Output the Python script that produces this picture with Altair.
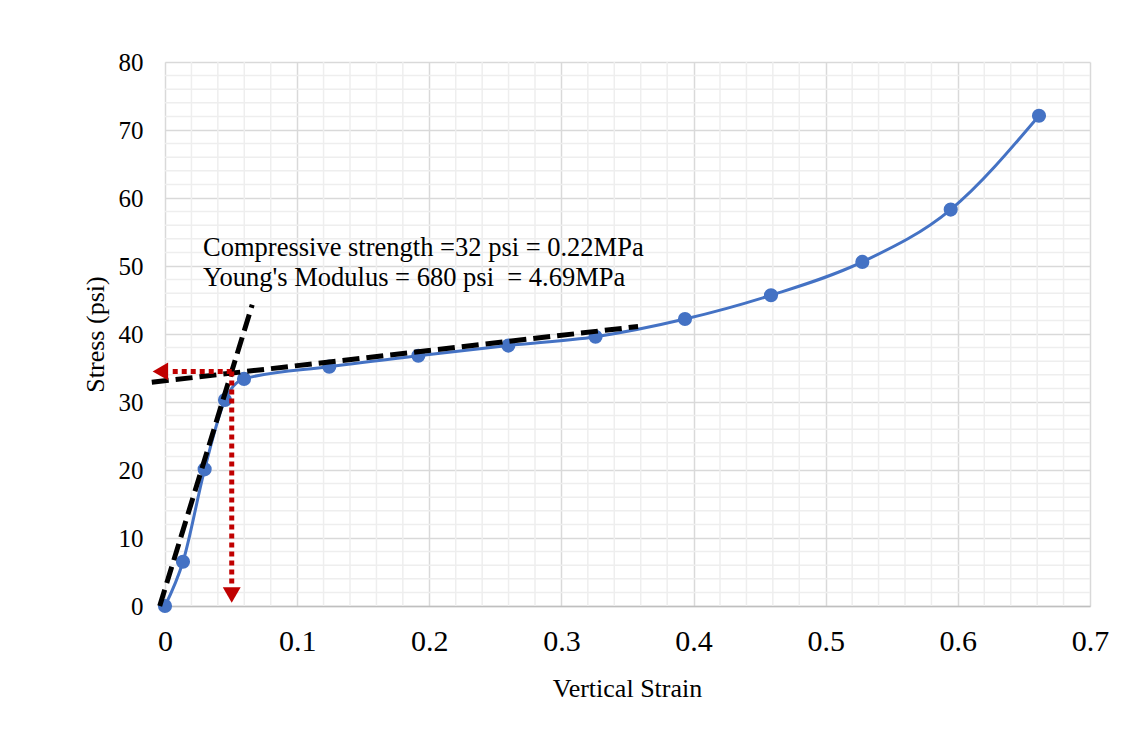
import altair as alt
import pandas as pd
import numpy as np

# --- data ---
strain = [0.0, 0.0136, 0.0300, 0.0454, 0.0598, 0.1243, 0.1917, 0.2598, 0.3258, 0.3935, 0.4586, 0.5277, 0.5946, 0.6614]
stress = [0.0, 6.5, 20.1, 30.3, 33.4, 35.2, 36.8, 38.3, 39.6, 42.2, 45.7, 50.6, 58.3, 72.1]

# tangent (elastic) line and plastic line
tan1_x = [-0.004, 0.066]
tan1_y = [0.0, 44.3]
tan2_x = [-0.010, 0.358]
tan2_y = [32.9, 41.1]

# red dotted guides and arrowheads
guide_h_x = [0.0505, 0.004]
guide_h_y = [34.5, 34.5]
guide_v_x = [0.0505, 0.0505]
guide_v_y = [34.5, 3.0]
arrow_left = (-0.0035, 34.5)
arrow_down = (0.0505, 1.6)

ann_lines = ["Compressive strength =32 psi = 0.22MPa", "Young's Modulus = 680 psi\u00a0 = 4.69MPa"]
ann_x = [0.0288, 0.0288]
ann_y = [51.5, 47.1]

x_ticks = [0, 0.1, 0.2, 0.3, 0.4, 0.5, 0.6, 0.7]
y_ticks = [0, 10, 20, 30, 40, 50, 60, 70, 80]

FONT = "Liberation Serif"
BLUE = "#4472C4"
RED = "#C00000"

xs = alt.Scale(domain=[0, 0.7], nice=False, zero=False)
ys = alt.Scale(domain=[0, 80], nice=False)

main = pd.DataFrame({"x": strain, "y": stress})

x_axis = alt.Axis(values=x_ticks, format=".1~f", title="Vertical Strain", grid=True,
                  gridColor="#d9d9d9", gridWidth=1.5, domainColor="#bfbfbf", domainWidth=1.5,
                  ticks=False, labelFlush=False, labelFont=FONT, labelFontSize=30, labelColor="#000000",
                  labelPadding=20, titleFont=FONT, titleFontSize=26, titleFontWeight="normal",
                  titleColor="#000000", titleX=462, titleY=90, titleBaseline="alphabetic")
y_axis = alt.Axis(values=y_ticks, title="Stress (psi)", grid=True, gridColor="#d9d9d9", gridWidth=1.5,
                  domainColor="#d9d9d9", ticks=False, labelFlush=False, labelFont=FONT, labelFontSize=25,
                  labelColor="#000000", labelPadding=22, titleFont=FONT, titleFontSize=26,
                  titleFontWeight="normal", titleColor="#000000", titleX=-70, titleY=272,
                  titleBaseline="middle", titleAngle=-90, titleAlign="center")

minor_x = pd.DataFrame({"v": [v for v in np.round(np.arange(0.02, 0.7, 0.02), 2) if round(v * 10, 6) % 1 != 0]})
minor_y = pd.DataFrame({"v": [v for v in range(2, 80, 2) if v % 10 != 0]})

grid_x = alt.Chart(minor_x).mark_rule(color="#eeeeee", strokeWidth=1.5).encode(
    x=alt.X("v:Q", scale=xs, axis=x_axis))
grid_y = alt.Chart(minor_y).mark_rule(color="#eeeeee", strokeWidth=1.5).encode(
    y=alt.Y("v:Q", scale=ys, axis=y_axis))

line = alt.Chart(main).mark_line(color=BLUE, strokeWidth=3, interpolate="monotone").encode(
    x=alt.X("x:Q", scale=xs), y=alt.Y("y:Q", scale=ys))
pts = alt.Chart(main).mark_point(color=BLUE, filled=True, opacity=1, size=200).encode(
    x=alt.X("x:Q", scale=xs), y=alt.Y("y:Q", scale=ys))

def seg(xv, yv, **kw):
    df = pd.DataFrame({"x": xv, "y": yv, "o": list(range(len(xv)))})
    return alt.Chart(df).mark_line(**kw).encode(
        x=alt.X("x:Q", scale=xs), y=alt.Y("y:Q", scale=ys), order="o:Q")

t1 = seg(tan1_x, tan1_y, color="black", strokeWidth=5, strokeDash=[17, 7])
t2 = seg(tan2_x, tan2_y, color="black", strokeWidth=5, strokeDash=[17, 7])
g1 = seg(guide_h_x, guide_h_y, color=RED, strokeWidth=5, strokeDash=[5, 4])
g2 = seg(guide_v_x, guide_v_y, color=RED, strokeWidth=5, strokeDash=[5, 4])

a1 = alt.Chart(pd.DataFrame({"x": [arrow_left[0]], "y": [arrow_left[1]]})).mark_point(
    shape="triangle-left", filled=True, color=RED, opacity=1, size=320).encode(
    x=alt.X("x:Q", scale=xs), y=alt.Y("y:Q", scale=ys))
a2 = alt.Chart(pd.DataFrame({"x": [arrow_down[0]], "y": [arrow_down[1]]})).mark_point(
    shape="triangle-down", filled=True, color=RED, opacity=1, size=320).encode(
    x=alt.X("x:Q", scale=xs), y=alt.Y("y:Q", scale=ys))

ann = alt.Chart(pd.DataFrame({"x": ann_x, "y": ann_y, "t": ann_lines})).mark_text(
    align="left", baseline="alphabetic", font=FONT, fontSize=26.5, color="#000000").encode(
    x=alt.X("x:Q", scale=xs), y=alt.Y("y:Q", scale=ys), text="t:N")

chart = alt.layer(grid_x, grid_y, line, pts, t1, t2, g1, g2, a1, a2, ann).properties(
    width=925, height=544,
    autosize=alt.AutoSizeParams(type="none"),
    padding={"left": 157, "top": 54, "right": 30, "bottom": 100},
    background="white",
).configure_view(stroke=None)

chart.save("out.html", embed_options={"renderer": "svg", "actions": False})
